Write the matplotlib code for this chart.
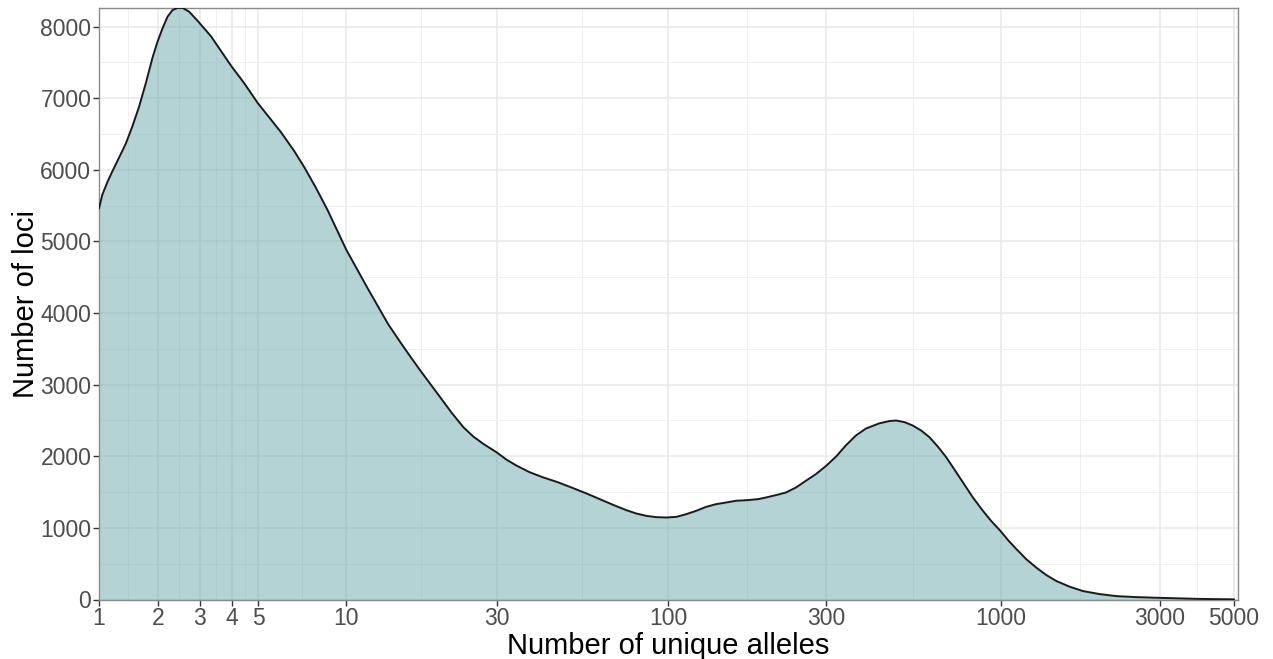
import numpy as np
import matplotlib
matplotlib.use("Agg")
import matplotlib.pyplot as plt
from matplotlib.ticker import FixedLocator, FixedFormatter, NullFormatter

plt.rcParams['font.family'] = ['Liberation Sans', 'DejaVu Sans']

# Density curve (x = number of unique alleles, y = number of loci)
alleles = [1.0, 1.046, 1.118, 1.193, 1.296, 1.404, 1.518, 1.636, 1.761, 1.891,
           1.99, 2.097, 2.206, 2.319, 2.436, 2.56, 2.724, 2.945, 3.33, 3.97,
           4.445, 4.97, 6.01, 6.691, 7.24, 7.933, 8.68, 9.99, 11.76, 13.66,
           14.94, 16.08, 17.3, 18.6, 20.0, 21.75, 23.65, 25.4, 27.3, 30, 32.2,
           34.6, 38, 41.7, 46.4, 51.5, 56.6, 62.1, 68.2, 74.8, 80.2, 86, 92.2,
           98.8, 106, 113.6, 121.7, 130.5, 139.9, 150, 160.6, 174, 187.5, 197.7,
           211.8, 227, 243.3, 260.6, 279.3, 300, 320.7, 343, 368, 394.5, 432.5,
           464, 486, 514.8, 545, 577.7, 612, 648, 687, 727.4, 770.6, 825.6, 885,
           937.5, 1000, 1052, 1114, 1194.5, 1280, 1371, 1470, 1611, 1767, 1983,
           2224, 2554, 3000, 3873, 5000]
loci = [5461, 5652, 5827, 5980, 6171, 6363, 6609, 6882, 7209, 7564,
        7783, 7974, 8138, 8231, 8262, 8262, 8209, 8083, 7865, 7455,
        7209, 6936, 6527, 6260, 6035, 5745, 5434, 4888, 4342, 3850,
        3598, 3397, 3201, 3014, 2827, 2607, 2407, 2276, 2173, 2056, 1953,
        1869, 1776, 1706, 1636, 1556, 1481, 1402, 1322, 1248, 1201, 1168, 1150,
        1145, 1154, 1192, 1238, 1294, 1332, 1355, 1379, 1388, 1402, 1425,
        1458, 1495, 1565, 1659, 1752, 1869, 1995, 2150, 2290, 2388, 2460,
        2492, 2500, 2477, 2430, 2360, 2266, 2136, 1986, 1813, 1636, 1425, 1238,
        1095, 955, 830, 705, 561, 444, 341, 257, 178, 117, 75,
        47, 33, 23, 9, 2]

x_ticks = [1, 2, 3, 4, 5, 10, 30, 100, 300, 1000, 3000, 5000]
x_tick_labels = [str(v) for v in x_ticks]
y_ticks = [0, 1000, 2000, 3000, 4000, 5000, 6000, 7000, 8000]
y_tick_labels = [str(v) for v in y_ticks]


def fwd(x):
    x = np.asarray(x, dtype=float)
    return np.log10(np.clip(x, -0.999999, None) + 1.0)


def inv(t):
    return 10 ** np.asarray(t, dtype=float) - 1.0


W, H = 1273, 659
fig = plt.figure(figsize=(W / 100, H / 100), dpi=100)
left, right, top, bottom = 99, 1238, 7.5, 599.5
ax = fig.add_axes([left / W, (H - bottom) / H, (right - left) / W, (bottom - top) / H])

ax.set_xscale('function', functions=(fwd, inv))
ax.set_xlim(1, float(inv(3.711)))
ax.set_ylim(0, 8268)

ax.fill_between(alleles, loci, 0, color='#6AA8AD', alpha=0.5, linewidth=0, zorder=2)
ax.plot(alleles, loci, color='#1a1a1a', lw=1.4, zorder=3,
        solid_joinstyle='round', solid_capstyle='round')

# ticks and grid
ax.xaxis.set_major_locator(FixedLocator(x_ticks))
ax.xaxis.set_major_formatter(FixedFormatter(x_tick_labels))
t_major = fwd(x_ticks)
x_minor = inv((t_major[:-1] + t_major[1:]) / 2)
ax.xaxis.set_minor_locator(FixedLocator(list(x_minor)))
ax.xaxis.set_minor_formatter(NullFormatter())

ax.yaxis.set_major_locator(FixedLocator(y_ticks))
ax.yaxis.set_major_formatter(FixedFormatter(y_tick_labels))
y_minor = [v + 500 for v in y_ticks[:-1]]
ax.yaxis.set_minor_locator(FixedLocator(y_minor))
ax.yaxis.set_minor_formatter(NullFormatter())

ax.set_axisbelow(True)
ax.grid(which='major', color='#E8E8E8', linewidth=1.1)
ax.grid(which='minor', color='#F0F0F0', linewidth=0.7)

ax.tick_params(which='major', length=4, width=1, color='#333333',
               labelsize=16.5, labelcolor='#4D4D4D', pad=1.5)
ax.tick_params(which='minor', length=0)

for s in ax.spines.values():
    s.set_color('#8a8a8a')
    s.set_linewidth(1.0)

ax.set_xlabel('Number of unique alleles', fontsize=21, color='black', labelpad=1)
ax.set_ylabel('Number of loci', fontsize=21, color='black', labelpad=0.5)

fig.savefig('out.png', dpi=100)
